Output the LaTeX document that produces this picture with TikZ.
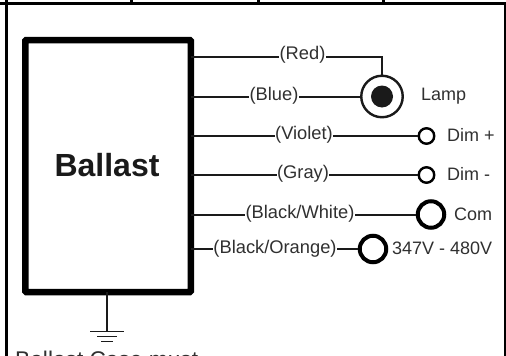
\documentclass[tikz,border=0pt]{standalone}
\usepackage{fontspec}
\setmainfont{Liberation Sans}
\definecolor{ink}{HTML}{1A1A1A}
\definecolor{txt}{HTML}{303030}
\tikzset{
  framerule/.style={line width=3pt,black},
  wire/.style={line width=2pt,ink},
  lbl/.style={font=\fontsize{18.3}{18}\selectfont,text=txt,fill=white,inner sep=0.5pt,anchor=center},
  term/.style={font=\fontsize{18}{18}\selectfont,text=txt,inner sep=0pt,anchor=west},
  smallring/.style={circle,draw=black,fill=white,line width=2.4pt,minimum size=15.5pt,inner sep=0pt},
  bigring/.style={circle,draw=black,fill=white,line width=4pt,minimum size=26.5pt,inner sep=0pt},
  lampring/.style={circle,draw=ink,fill=white,line width=2.4pt,minimum size=41.5pt,inner sep=0pt},
  lampcore/.style={circle,fill=ink,minimum size=22pt,inner sep=0pt},
  gbar/.style={line width=1.8pt,ink}
}
\begin{document}
\begin{tikzpicture}[x=1pt,y=-1pt]
\useasboundingbox (0,0) rectangle (506,356);
\clip (0,0) rectangle (506,356);
% table frame
\draw[framerule] (0,3.5) -- (506,3.5);
\draw[framerule] (6,0) -- (6,356);
\draw[line width=1.5pt,black] (505,3.5) -- (505,356);
\draw[line width=3pt,black] (131.5,0) -- (131.5,3.5);
\draw[line width=3pt,black] (258,0) -- (258,3.5);
\draw[line width=3pt,black] (383,0) -- (383,3.5);
% ballast
\node[draw=black,line width=6.5pt,rounded corners=1pt,minimum width=165.5pt,minimum height=252pt,inner sep=0pt,outer sep=0pt,fill=white] (ballast) at (108,166) {};
\node[font=\bfseries\fontsize{32}{32}\selectfont,text=ink,inner sep=0pt] (title) at (107,165) {Ballast};
% terminals
\node[lampring] (lamp) at (382,96.5) {};
\node[lampcore] (core) at (382,96.5) {};
\node[smallring] (dimp) at (426.5,136) {};
\node[smallring] (dimm) at (426.5,175) {};
\node[bigring] (com) at (431,214.5) {};
\node[bigring] (line) at (373,249) {};
% anchor coordinates on the ballast edge
\coordinate (r) at (ballast.east |- 0,56.5);
\coordinate (b) at (ballast.east |- lamp.west);
\coordinate (v) at (ballast.east |- dimp.west);
\coordinate (g) at (ballast.east |- dimm.west);
\coordinate (w) at (ballast.east |- com.west);
\coordinate (o) at (ballast.east |- line.west);
\coordinate (rc) at (lamp.north |- r);
% wires
\draw[wire] (r) -- (rc) -- (lamp.north);
\draw[wire] (b) -- (lamp.west);
\draw[wire] (v) -- (dimp.west);
\draw[wire] (g) -- (dimm.west);
\draw[wire] (w) -- (com.west);
\draw[wire] (o) -- (line.west);
% wire labels
\node[lbl] (lr) at (302.5,55) {(Red)};
\node[lbl] (lb) at (274,96) {(Blue)};
\node[lbl] (lv) at (304,135) {(Violet)};
\node[lbl] (lg) at (303,174) {(Gray)};
\node[lbl] (lw) at (300,214) {(Black/White)};
\node[lbl] (lo) at (275,248.5) {(Black/Orange)};
% terminal labels
\node[term] (tl) at (421,96) {Lamp};
\node[term] (t1) at (447,135) {Dim +};
\node[term] (t2) at (447,174) {Dim -};
\node[term] (t3) at (454,214) {Com};
\node[term] (t4) at (392,248.5) {347V - 480V};
% ground
\coordinate (gt) at (107,331);
\draw[wire] (ballast.south -| gt) -- (gt);
\draw[gbar] (90,331.5) -- (124,331.5);
\draw[gbar] (97,336.5) -- (117,336.5);
\draw[gbar] (101,341.5) -- (113,341.5);
\node[font=\fontsize{22.7}{23}\selectfont,text=txt,inner sep=0pt,anchor=base west] (note) at (15,367) {Ballast Case must};
\end{tikzpicture}
\end{document}
